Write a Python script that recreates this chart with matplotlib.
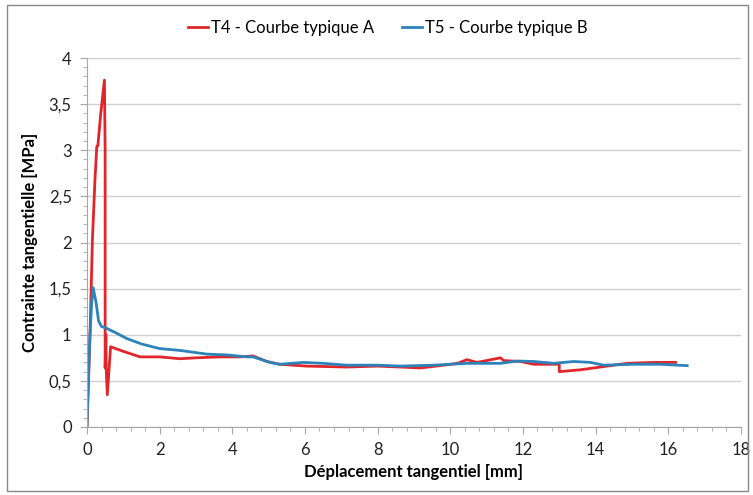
import matplotlib
matplotlib.use('Agg')
import matplotlib.pyplot as plt
from matplotlib.ticker import MultipleLocator, FuncFormatter
from matplotlib.patches import Rectangle

plt.rcParams['font.family'] = ['Lato', 'DejaVu Sans']

# T4 - courbe typique A
xa = [0.0, 0.08, 0.15, 0.22, 0.27, 0.30, 0.38, 0.48, 0.50, 0.50, 0.52, 0.53, 0.56, 0.65,
      1.0, 1.46, 2.0, 2.56, 3.0, 3.66, 4.2, 4.57, 4.95, 5.3, 6.05, 7.15, 8.0, 8.62, 9.17,
      9.72, 10.2, 10.46, 10.73, 11.0, 11.38, 11.47, 11.93, 12.3, 13.0, 13.0, 13.58, 14.13,
      14.87, 15.6, 16.2]
ya = [0.0, 0.94, 2.03, 2.68, 3.04, 3.05, 3.40, 3.76, 3.0, 0.64, 1.0, 0.62, 0.35, 0.87,
      0.82, 0.76, 0.76, 0.74, 0.75, 0.76, 0.76, 0.77, 0.71, 0.68, 0.66, 0.65, 0.66, 0.65, 0.64,
      0.665, 0.69, 0.73, 0.70, 0.72, 0.75, 0.72, 0.71, 0.68, 0.68, 0.60, 0.62, 0.65,
      0.69, 0.70, 0.70]

# T5 - courbe typique B
xb = [0.0, 0.04, 0.08, 0.13, 0.17, 0.25, 0.32, 0.40, 0.54, 0.8, 1.09, 1.5, 2.0, 2.56,
      3.3, 3.9, 4.4, 4.57, 5.04, 5.3, 5.96, 6.5, 7.15, 8.0, 8.62, 9.54, 10.46, 11.38,
      11.84, 12.3, 12.85, 13.4, 13.86, 14.22, 15.05, 15.78, 16.52]
yb = [0.0, 0.55, 0.98, 1.35, 1.51, 1.35, 1.15, 1.09, 1.07, 1.02, 0.96, 0.90, 0.85, 0.83,
      0.79, 0.78, 0.76, 0.76, 0.70, 0.68, 0.70, 0.69, 0.67, 0.67, 0.66, 0.67, 0.69, 0.69,
      0.715, 0.71, 0.69, 0.71, 0.70, 0.67, 0.68, 0.68, 0.665]

red = '#E0262A'
blue = '#2B83BA'
grey = '#A6A6A6'

fig = plt.figure(figsize=(7.53, 4.95), dpi=100)
ax = fig.add_axes([0.1155, 0.1374, 0.8685, 0.7454])

ax.plot(xa, ya, color=red, lw=2, label='T4 - Courbe typique A')
ax.plot(xb, yb, color=blue, lw=2, label='T5 - Courbe typique B')

ax.set_xlim(0, 18)
ax.set_ylim(0, 4)
ax.xaxis.set_major_locator(MultipleLocator(2))
ax.xaxis.set_minor_locator(MultipleLocator(0.4))
ax.yaxis.set_major_locator(MultipleLocator(0.5))
ax.yaxis.set_minor_locator(MultipleLocator(0.1))
ax.yaxis.set_major_formatter(FuncFormatter(lambda v, p: ('%g' % v).replace('.', ',')))

ax.grid(axis='y', color='#D0D0D0', lw=1)
ax.set_axisbelow(True)
for s in ['top', 'right']:
    ax.spines[s].set_visible(False)
for s in ['left', 'bottom']:
    ax.spines[s].set_color(grey)
ax.tick_params(which='major', length=5, color=grey, labelsize=12, labelcolor='#222222', pad=6)
ax.tick_params(which='minor', length=3, color=grey)

ax.set_xlabel('Déplacement tangentiel [mm]', fontsize=12, fontweight='bold', labelpad=4)
ax.set_ylabel('Contrainte tangentielle [MPa]', fontsize=12, fontweight='bold', labelpad=8)

ax.legend(loc='lower center', bbox_to_anchor=(0.46, 1.02), ncol=2, frameon=False,
          fontsize=12, handlelength=1.2, handletextpad=0.15, columnspacing=1.7)

fig.patches.append(Rectangle((0.009, 0.008), 0.984, 0.982, transform=fig.transFigure,
                             fill=False, edgecolor='#888888', lw=1))

fig.savefig('out.png', dpi=100)
